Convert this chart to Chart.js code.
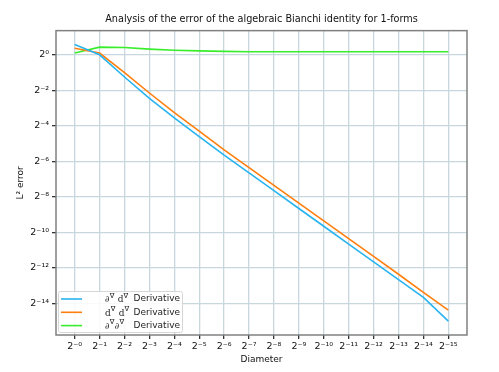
<!DOCTYPE html>
<html>
<head>
<meta charset="utf-8">
<script src="https://cdn.jsdelivr.net/npm/chart.js@4"></script>
<style>
html, body { margin: 0; padding: 0; background: #fff; }
</style>
</head>
<body>
<canvas id="myChart" width="499" height="372"></canvas>
<script>
// diameters (x) and their tick labels
var diameters = [1, 0.5, 0.25, 0.125, 0.0625, 0.03125, 0.015625, 0.0078125, 0.00390625,
  0.001953125, 0.0009765625, 0.00048828125, 0.000244140625, 0.0001220703125,
  0.00006103515625, 0.000030517578125];
var xTickLabels = ['2⁻⁰', '2⁻¹', '2⁻²', '2⁻³', '2⁻⁴', '2⁻⁵', '2⁻⁶', '2⁻⁷', '2⁻⁸',
  '2⁻⁹', '2⁻¹⁰', '2⁻¹¹', '2⁻¹²', '2⁻¹³', '2⁻¹⁴', '2⁻¹⁵'];

// y ticks
var yTickValues = [1, 0.25, 0.0625, 0.015625, 0.00390625, 0.0009765625, 0.000244140625, 0.00006103515625];
var yTickLabels = ['2⁰', '2⁻²', '2⁻⁴', '2⁻⁶', '2⁻⁸', '2⁻¹⁰', '2⁻¹²', '2⁻¹⁴'];

// L2 errors
var blueErr = [1.495, 1.0, 0.4204, 0.183, 0.0854, 0.04123, 0.01992, 0.00996, 0.00498,
  0.00249, 0.001245, 0.000622, 0.000311, 0.0001556, 0.0000778, 0.0000307];
var orangeErr = [1.292, 1.072, 0.5, 0.2253, 0.1051, 0.05076, 0.02453, 0.01226, 0.00613,
  0.003066, 0.001533, 0.000766, 0.000383, 0.0001916, 0.0000945, 0.0000472];
var greenErr = [1.072, 1.347, 1.329, 1.248, 1.197, 1.165, 1.141, 1.128, 1.125,
  1.125, 1.125, 1.125, 1.125, 1.125, 1.125, 1.125];

var seriesNames = ['∂^∇ d^∇ Derivative', 'd^∇ d^∇ Derivative', '∂^∇∂^∇ Derivative'];
var seriesColors = ['#29b4ef', '#ff7f0e', '#38ee2c'];

function pts(arr) {
  return arr.map(function (v, i) { return { x: diameters[i], y: v }; });
}

// title centred over the plot, frame around it
var framePlugin = {
  id: 'frame',
  afterLayout: function (chart) {
    var t = chart.titleBlock, a = chart.chartArea;
    if (t) { t.left = a.left; t.right = a.right; t.width = a.right - a.left; }
  },
  afterDatasetsDraw: function (chart) {
    var ctx = chart.ctx, a = chart.chartArea;
    ctx.save();
    ctx.strokeStyle = '#808080';
    ctx.lineWidth = 1.5;
    ctx.strokeRect(a.left, a.top, a.right - a.left, a.bottom - a.top);
    ctx.restore();
  }
};

// draw a label with ^x superscripts
function drawMath(ctx, txt, x, y) {
  var i = 0;
  while (i < txt.length) {
    var c = txt[i];
    if (c === '^') {
      ctx.font = '7px "DejaVu Sans"';
      ctx.fillText(txt[i + 1], x, y - 4);
      x += ctx.measureText(txt[i + 1]).width + 0.5;
      i += 2;
    } else {
      ctx.font = '9px "DejaVu Serif"';
      ctx.fillText(c, x, y);
      x += ctx.measureText(c).width;
      i++;
    }
  }
}

var legendPlugin = {
  id: 'innerLegend',
  afterDatasetsDraw: function (chart) {
    var ctx = chart.ctx, a = chart.chartArea;
    var bx = a.left + 2, by = a.bottom - 44, bw = 124, bh = 41;
    ctx.save();
    ctx.fillStyle = 'rgba(255,255,255,0.85)';
    ctx.strokeStyle = '#d6d6d6';
    ctx.lineWidth = 1;
    ctx.beginPath();
    ctx.roundRect(bx + 0.5, by + 0.5, bw, bh, 2);
    ctx.fill();
    ctx.stroke();
    ctx.textBaseline = 'middle';
    chart.data.datasets.forEach(function (ds, i) {
      var cy = by + 8 + i * 13.3;
      ctx.strokeStyle = ds.borderColor;
      ctx.lineWidth = 1.6;
      ctx.beginPath();
      ctx.moveTo(bx + 3, cy);
      ctx.lineTo(bx + 24, cy);
      ctx.stroke();
      var parts = ds.label.split(' Derivative');
      ctx.fillStyle = '#222';
      ctx.textAlign = 'left';
      drawMath(ctx, parts[0], bx + 47, cy + 1);
      ctx.font = '9px "DejaVu Sans"';
      ctx.textAlign = 'right';
      ctx.fillText('Derivative', bx + 122, cy);
    });
    ctx.restore();
  }
};

var gridColor = '#c8d6de';

var myChart = new Chart('myChart', {
  type: 'line',
  data: {
    datasets: [0, 1, 2].map(function (k) {
      return {
        label: seriesNames[k],
        data: pts([blueErr, orangeErr, greenErr][k]),
        borderColor: seriesColors[k],
        backgroundColor: seriesColors[k],
        borderWidth: 1.6,
        pointRadius: 0,
        tension: 0,
        fill: false
      };
    })
  },
  options: {
    responsive: false,
    animation: false,
    devicePixelRatio: 1,
    layout: { padding: { left: 0, right: 32, top: 0, bottom: 0 } },
    plugins: {
      legend: { display: false },
      tooltip: { enabled: false },
      title: {
        display: true,
        text: 'Analysis of the error of the algebraic Bianchi identity for 1-forms',
        color: '#111',
        font: { family: 'DejaVu Sans', size: 9.7, weight: 'normal' },
        padding: { top: 14, bottom: 5 }
      }
    },
    scales: {
      x: {
        type: 'logarithmic',
        reverse: true,
        min: Math.pow(2, -15.75),
        max: Math.pow(2, 0.75),
        afterBuildTicks: function (s) {
          s.ticks = diameters.map(function (v) { return { value: v }; });
        },
        afterFit: function (s) { s.height = 37; },
        ticks: {
          autoSkip: false,
          maxRotation: 0,
          padding: 2,
          color: '#111',
          font: { family: 'DejaVu Sans', size: 9.5 },
          callback: function (v, i) { return xTickLabels[i]; }
        },
        grid: { color: gridColor, lineWidth: 1.3, tickColor: '#333', tickLength: 4 },
        border: { display: false },
        title: {
          display: true,
          text: 'Diameter',
          color: '#111',
          font: { family: 'DejaVu Sans', size: 9 },
          padding: { top: 0, bottom: 7 }
        }
      },
      y: {
        type: 'logarithmic',
        min: Math.pow(2, -15.77),
        max: Math.pow(2, 1.36),
        afterBuildTicks: function (s) {
          s.ticks = yTickValues.map(function (v) { return { value: v }; });
        },
        afterFit: function (s) { s.width = 56; },
        ticks: {
          autoSkip: false,
          padding: 3,
          color: '#111',
          font: { family: 'DejaVu Sans', size: 9.5 },
          callback: function (v, i) { return yTickLabels[i]; }
        },
        grid: { color: gridColor, lineWidth: 1.3, tickColor: '#333', tickLength: 4 },
        border: { display: false },
        title: {
          display: true,
          text: 'L² error',
          color: '#111',
          font: { family: 'DejaVu Sans', size: 9 },
          padding: { top: 15, bottom: 0 }
        }
      }
    }
  },
  plugins: [framePlugin, legendPlugin]
});
</script>
</body>
</html>
